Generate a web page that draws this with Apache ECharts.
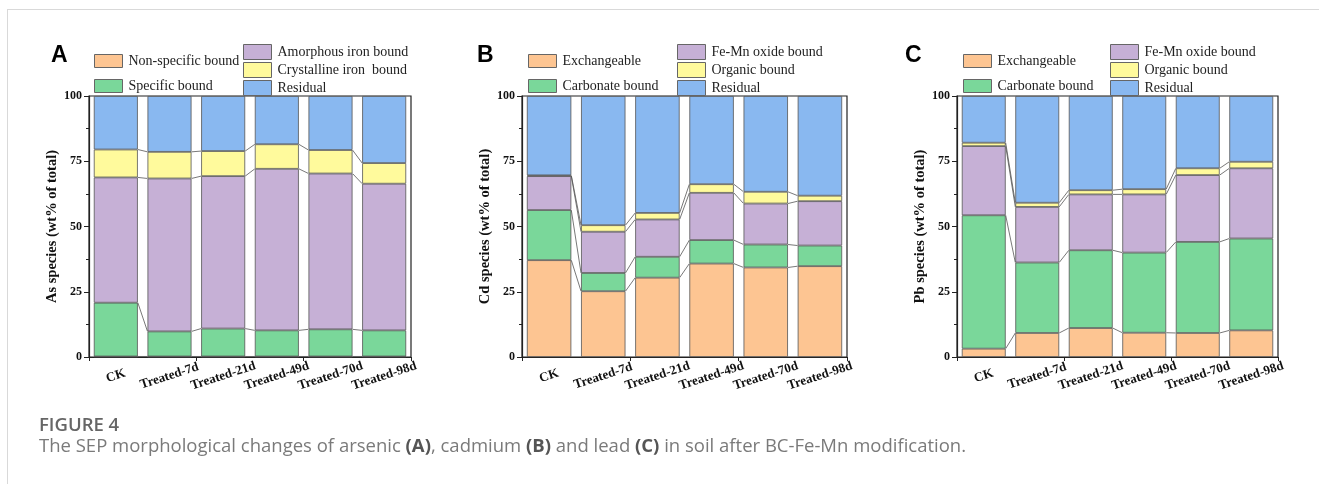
<!DOCTYPE html>
<html>
<head>
<meta charset="utf-8">
<script src="https://cdn.jsdelivr.net/npm/echarts@6/dist/echarts.min.js"></script>
<style>
html,body{margin:0;padding:0;background:#fff;}
#c{width:1319px;height:484px;}
</style>
</head>
<body>
<div id="c"></div>
<script>
// ---------- data ----------
const categories = ['CK', 'Treated-7d', 'Treated-21d', 'Treated-49d', 'Treated-70d', 'Treated-98d'];
const yTicks = [0, 25, 50, 75, 100];

// Panel A: As species (wt% of total)
const asNames = ['Non-specific bound', 'Specific bound', 'Amorphous iron bound', 'Crystalline iron  bound', 'Residual'];
const asNonSpecific = [0.2, 0.2, 0.2, 0.2, 0.2, 0.2];
const asSpecific    = [20.6, 9.6, 10.7, 10.0, 10.4, 10.0];
const asAmorphous   = [48.0, 58.6, 58.4, 61.9, 59.7, 56.2];
const asCrystalline = [10.7, 10.2, 9.6, 9.4, 9.0, 7.9];
const asResidual    = [20.5, 21.4, 21.1, 18.5, 20.7, 25.7];

// Panel B: Cd species (wt% of total)
const cdNames = ['Exchangeable', 'Carbonate bound', 'Fe-Mn oxide bound', 'Organic bound', 'Residual'];
const cdExchangeable = [37.1, 25.2, 30.4, 35.8, 34.3, 34.8];
const cdCarbonate    = [19.2, 7.0, 8.0, 9.0, 8.8, 7.9];
const cdFeMn         = [13.0, 15.8, 14.3, 18.1, 15.7, 17.0];
const cdOrganic      = [0.3, 2.5, 2.5, 3.3, 4.5, 2.1];
const cdResidual     = [30.4, 49.5, 44.8, 33.8, 36.7, 38.2];

// Panel C: Pb species (wt% of total)
const pbNames = ['Exchangeable', 'Carbonate bound', 'Fe-Mn oxide bound', 'Organic bound', 'Residual'];
const pbExchangeable = [3.2, 9.2, 11.1, 9.3, 9.2, 10.2];
const pbCarbonate    = [51.1, 27.0, 29.8, 30.7, 34.9, 35.2];
const pbFeMn         = [26.5, 21.3, 21.4, 22.3, 25.6, 26.9];
const pbOrganic      = [1.3, 1.6, 1.6, 2.0, 2.6, 2.5];
const pbResidual     = [17.9, 40.9, 36.1, 35.7, 27.7, 25.2];

const segColors = ['#FDC592', '#7AD79A', '#C6B0D6', '#FFFA9C', '#89B8F0'];

// ---------- build ----------
const serif = 'Liberation Serif, Times New Roman, serif';
const BAR_FRAC = 0.82;

const panels = [
  { key: 'A', names: asNames, arrays: [asNonSpecific, asSpecific, asAmorphous, asCrystalline, asResidual],
    yName: 'As species (wt% of total)', grid: { left: 89, top: 96, width: 322, height: 261 } },
  { key: 'B', names: cdNames, arrays: [cdExchangeable, cdCarbonate, cdFeMn, cdOrganic, cdResidual],
    yName: 'Cd species (wt% of total)', grid: { left: 522, top: 96, width: 325, height: 261 } },
  { key: 'C', names: pbNames, arrays: [pbExchangeable, pbCarbonate, pbFeMn, pbOrganic, pbResidual],
    yName: 'Pb species (wt% of total)', grid: { left: 957, top: 96, width: 321, height: 261 } }
];

const grids = [], xAxes = [], yAxes = [], series = [];
panels.forEach((p, pi) => {
  grids.push(Object.assign({ show: true, borderColor: '#222', borderWidth: 1.2, backgroundColor: 'transparent' }, p.grid));
  xAxes.push({
    type: 'category', gridIndex: pi, data: categories,
    axisLine: { lineStyle: { color: '#222', width: 1.2 } },
    axisTick: { alignWithLabel: true, length: 4, lineStyle: { color: '#222' } },
    axisLabel: { rotate: 18, align: 'center', verticalAlign: 'middle', margin: 19,
      fontFamily: serif, fontWeight: 'bold', fontSize: 13, color: '#111', interval: 0 }
  });
  yAxes.push({
    type: 'value', gridIndex: pi, min: yTicks[0], max: yTicks[yTicks.length - 1], interval: 25,
    name: p.yName, nameLocation: 'middle', nameGap: 28,
    nameTextStyle: { fontFamily: serif, fontWeight: 'bold', fontSize: 14.5, color: '#111' },
    axisLine: { show: true, lineStyle: { color: '#222', width: 1.2 } },
    axisTick: { show: true, length: 5, lineStyle: { color: '#222' } },
    minorTick: { show: true, splitNumber: 2, length: 3, lineStyle: { color: '#222' } },
    splitLine: { show: false },
    axisLabel: { fontFamily: serif, fontWeight: 'bold', fontSize: 12, color: '#111', margin: 7 }
  });
});
panels.forEach((p, pi) => {
  xAxes.push({
    type: 'category', gridIndex: pi, data: categories, position: 'bottom',
    axisLine: { show: false },
    axisTick: { show: true, alignWithLabel: false, length: 4, lineStyle: { color: '#222' } },
    axisLabel: { show: false }
  });
});

panels.forEach((p, pi) => {
  p.arrays.forEach((arr, k) => {
    series.push({
      type: 'bar', name: p.names[k], stack: 'stack' + p.key,
      xAxisIndex: pi, yAxisIndex: pi, data: arr,
      barWidth: (BAR_FRAC * 100) + '%',
      itemStyle: { color: segColors[k], borderColor: '#555', borderWidth: 0.8 },
      emphasis: { disabled: true }
    });
  });
  const linkData = [];
  const n = categories.length;
  for (let k = 0; k < p.arrays.length - 1; k++) {
    for (let i = 0; i < n - 1; i++) {
      let a = 0, b = 0;
      for (let j = 0; j <= k; j++) { a += p.arrays[j][i]; b += p.arrays[j][i + 1]; }
      linkData.push([i, a, b]);
    }
  }
  series.push({
    type: 'custom', name: 'links' + p.key, xAxisIndex: pi, yAxisIndex: pi,
    data: linkData, encode: { x: 0, y: [1, 2] }, z: 5, silent: true,
    renderItem: function (params, api) {
      const i = api.value(0);
      const pa = api.coord([i, api.value(1)]);
      const pb = api.coord([i + 1, api.value(2)]);
      const hw = api.size([1, 0])[0] * BAR_FRAC / 2;
      return { type: 'line', shape: { x1: pa[0] + hw, y1: pa[1], x2: pb[0] - hw, y2: pb[1] },
        style: { stroke: '#555', lineWidth: 0.8 } };
    }
  });
});

function legend(data, left, top, h, gap) {
  return { data: data, left: left, top: top, orient: 'vertical', itemWidth: 28, itemHeight: h, itemGap: gap,
    icon: 'rect', padding: 0, selectedMode: false,
    itemStyle: { borderColor: '#666', borderWidth: 1 },
    textStyle: { fontFamily: serif, fontSize: 14, lineHeight: 14, color: '#222', padding: [0, 0, 0, 1] } };
}
const legends = [
  legend([asNames[0], asNames[1]], 94, 54, 13, 11),
  legend([asNames[2], asNames[3], asNames[4]], 243, 44, 15, 2),
  legend([cdNames[0], cdNames[1]], 528, 54, 13, 11),
  legend([cdNames[2], cdNames[3], cdNames[4]], 677, 44, 15, 2),
  legend([pbNames[0], pbNames[1]], 963, 54, 13, 11),
  legend([pbNames[2], pbNames[3], pbNames[4]], 1110, 44, 15, 2)
];

const sans = 'Liberation Sans, Arial, sans-serif';
const letter = (t, x) => ({ type: 'text', left: x, top: 44,
  style: { text: t, font: 'bold 23px ' + sans, fill: '#000' } });

const chart = echarts.init(document.getElementById('c'), null, { renderer: 'canvas' });
chart.setOption({
  animation: false,
  backgroundColor: '#fff',
  grid: grids, xAxis: xAxes, yAxis: yAxes, series: series, legend: legends,
  graphic: [
    { type: 'line', shape: { x1: 7, y1: 9.5, x2: 1319, y2: 9.5 }, style: { stroke: '#d9d9d9', lineWidth: 1 } },
    { type: 'line', shape: { x1: 7.5, y1: 9, x2: 7.5, y2: 484 }, style: { stroke: '#d9d9d9', lineWidth: 1 } },
    letter('A', 51), letter('B', 477), letter('C', 905),
    { type: 'text', left: 39, top: 416,
      style: { text: 'FIGURE 4', font: '600 18.5px "Open Sans", sans-serif', fill: '#666' } },
    { type: 'text', left: 39, top: 437,
      style: {
        text: '{n|The SEP morphological changes of arsenic }{b|(A)}{n|, cadmium }{b|(B)}{n| and lead }{b|(C)}{n| in soil after BC-Fe-Mn modification.}',
        rich: {
          n: { font: '18.5px "Open Sans", sans-serif', fill: '#7a7a7a' },
          b: { font: 'bold 18.5px "Open Sans", sans-serif', fill: '#555' }
        }
      } }
  ]
});
</script>
</body>
</html>
